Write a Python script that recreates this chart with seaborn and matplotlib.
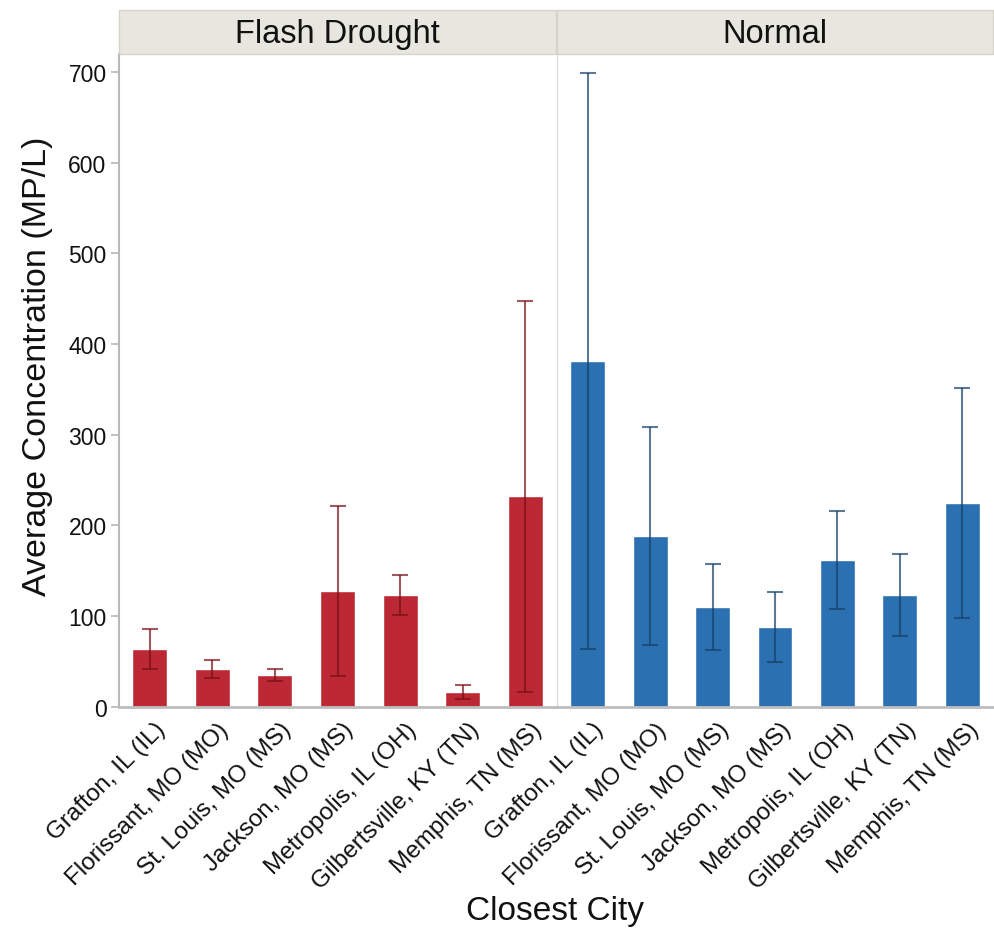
import matplotlib
matplotlib.use("Agg")
import matplotlib.pyplot as plt
import seaborn as sns
import pandas as pd
from matplotlib.patches import Rectangle
from matplotlib.transforms import ScaledTranslation

cities = ["Grafton, IL (IL)", "Florissant, MO (MO)", "St. Louis, MO (MS)",
          "Jackson, MO (MS)", "Metropolis, IL (OH)", "Gilbertsville, KY (TN)",
          "Memphis, TN (MS)"]
panels = ["Flash Drought", "Normal"]
flash_mean = [63.5, 41.4, 34.8, 127.5, 123, 16, 232.3]
flash_err = [22.3, 10.2, 6.6, 93.5, 21.7, 8, 215.7]
normal_mean = [381.3, 188.2, 109.8, 87.7, 161.7, 123, 224.6]
normal_err = [317.8, 120.1, 47.1, 38.6, 54.6, 45.2, 127]
yticks = [0, 100, 200, 300, 400, 500, 600, 700]

bar_colors = ["#BC2934", "#2B70B0"]
err_colors = ["#7A1019", "#17406A"]

sns.set_theme(style="white")
plt.rcParams["font.family"] = ["Liberation Sans", "DejaVu Sans"]

W, H = 994, 929
fig = plt.figure(figsize=(W / 100, H / 100), dpi=100)

ax_top, ax_bot = 55, 708
boxes = [(119, 556), (557, 993)]
data = [(flash_mean, flash_err), (normal_mean, normal_err)]

for i, ((x0, x1), (means, errs)) in enumerate(zip(boxes, data)):
    ax = fig.add_axes([x0 / W, 1 - ax_bot / H, (x1 - x0) / W, (ax_bot - ax_top) / H])
    df = pd.DataFrame({"city": cities, "value": means})
    sns.barplot(data=df, x="city", y="value", color=bar_colors[i], width=0.56,
                saturation=1, errorbar=None, ax=ax, order=cities)
    ax.errorbar(x=list(range(len(cities))), y=means, yerr=errs, fmt="none",
                ecolor=err_colors[i], elinewidth=1.5, capsize=6, capthick=1.5,
                alpha=0.7, zorder=5)
    ax.set_xlim(-0.49, 6.49)
    ax.set_ylim(-0.5, 720)
    ax.set_yticks(yticks)
    ax.set_xlabel("")
    ax.set_ylabel("")
    ax.set_xticks(range(len(cities)))
    ax.set_xticklabels(cities, rotation=45, ha="right", rotation_mode="anchor",
                       fontsize=17.5, color="#111111")
    ax.tick_params(axis="x", length=0, pad=8)
    shift = ScaledTranslation(5 / 100, 0, fig.dpi_scale_trans)
    for lbl in ax.get_xticklabels():
        lbl.set_transform(lbl.get_transform() + shift)
    for s in ["top", "right"]:
        ax.spines[s].set_visible(False)
    ax.spines["bottom"].set_color("#BDBDBD")
    ax.spines["bottom"].set_linewidth(2)
    if i == 0:
        ax.spines["left"].set_color("#B8B8B8")
        ax.spines["left"].set_linewidth(1.5)
        ax.tick_params(axis="y", left=True, length=6, width=1.2, color="#B8B8B8",
                       labelsize=16.5, labelcolor="#111111", pad=3)
    else:
        ax.spines["left"].set_color("#DDDDDD")
        ax.spines["left"].set_linewidth(1)
        ax.tick_params(axis="y", left=False, labelleft=False)
    # facet strip
    strip_h = 44 / (ax_bot - ax_top)
    ax.add_patch(Rectangle((0, 1), 1, strip_h, transform=ax.transAxes,
                           facecolor="#E8E7DF", edgecolor="#D5D4CB", lw=1,
                           clip_on=False, zorder=3))
    ax.text(0.5, 1 + strip_h / 2 - 0.003, panels[i], transform=ax.transAxes,
            ha="center", va="center", fontsize=23.5, color="#111111")

fig.text(38 / W, 1 - 366 / H, "Average Concentration (MP/L)", rotation=90,
         ha="center", va="center", fontsize=24.5, color="#111111")
fig.text(555 / W, 1 - 912 / H, "Closest City", ha="center", va="center",
         fontsize=24, color="#111111")

fig.savefig("out.png", dpi=100, facecolor="white")
